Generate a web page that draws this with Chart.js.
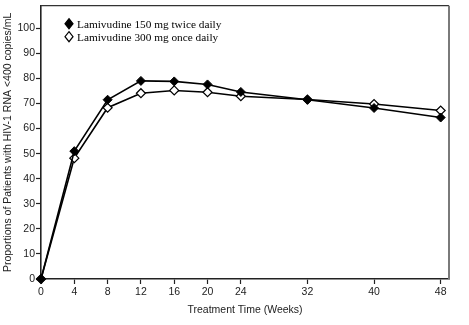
<!DOCTYPE html>
<html>
<head>
<meta charset="utf-8">
<script src="https://cdn.jsdelivr.net/npm/chart.js@4.4.1/dist/chart.umd.min.js"></script>
<style>
  html, body { margin: 0; padding: 0; background: #fff; }
  canvas { display: block; }
</style>
</head>
<body>
<canvas id="chart" width="469" height="325"></canvas>
<script>
// weeks on treatment and % of patients with HIV-1 RNA <400 copies/mL
const weeks = [0, 4, 8, 12, 16, 20, 24, 32, 40, 48];
const twiceDaily = [0, 51, 71.5, 79, 78.8, 77.6, 74.6, 71.5, 68.2, 64.4];
const onceDaily = [0, 48.2, 68.3, 74.1, 75.2, 74.5, 72.9, 71.6, 69.8, 67.2];
const seriesNames = ['Lamivudine 150 mg twice daily', 'Lamivudine 300 mg once daily'];
const xTicks = [0, 4, 8, 12, 16, 20, 24, 32, 40, 48];
const yTicks = [0, 10, 20, 30, 40, 50, 60, 70, 80, 90, 100];

const axisFont = { family: '"Liberation Sans", Arial, sans-serif', size: 10.5 };

const toPoints = (vals) => vals.map((v, i) => ({ x: weeks[i], y: v }));

// frame on the top and right of the plot
const framePlugin = {
  id: 'frame',
  beforeDatasetsDraw(chart) {
    const { ctx, chartArea: a } = chart;
    ctx.save();
    ctx.lineWidth = 1.2;
    ctx.strokeStyle = '#333';
    ctx.beginPath();
    ctx.moveTo(a.left, a.top);
    ctx.lineTo(a.right, a.top);
    ctx.stroke();
    ctx.lineWidth = 2;
    ctx.strokeStyle = '#7a7a7a';
    ctx.beginPath();
    ctx.moveTo(a.right, a.top);
    ctx.lineTo(a.right, a.bottom);
    ctx.stroke();
    ctx.restore();
  }
};

// legend sitting inside the plot, top left
const innerLegend = {
  id: 'innerLegend',
  afterDraw(chart) {
    const { ctx, chartArea: a } = chart;
    ctx.save();
    chart.data.datasets.forEach((ds, i) => {
      const mx = a.left + 28;
      const my = a.top + 18 + i * 13;
      ctx.beginPath();
      ctx.moveTo(mx, my - 5);
      ctx.lineTo(mx + 4, my);
      ctx.lineTo(mx, my + 5);
      ctx.lineTo(mx - 4, my);
      ctx.closePath();
      ctx.fillStyle = ds.pointBackgroundColor;
      ctx.fill();
      ctx.lineWidth = 1.2;
      ctx.strokeStyle = '#000';
      ctx.stroke();
      ctx.fillStyle = '#000';
      ctx.font = '11.3px "Liberation Serif", "Times New Roman", serif';
      ctx.textBaseline = 'middle';
      ctx.fillText(ds.label, mx + 8, my + 1);
    });
    ctx.restore();
  }
};

new Chart(document.getElementById('chart'), {
  type: 'line',
  data: {
    datasets: [
      {
        label: seriesNames[0],
        data: toPoints(twiceDaily),
        borderColor: '#000',
        borderWidth: 1.6,
        pointStyle: 'rectRot',
        pointRadius: 4.5,
        pointBackgroundColor: '#000',
        pointBorderColor: '#000',
        pointBorderWidth: 1,
        clip: false
      },
      {
        label: seriesNames[1],
        data: toPoints(onceDaily),
        borderColor: '#000',
        borderWidth: 1.6,
        pointStyle: 'rectRot',
        pointRadius: 4.5,
        pointBackgroundColor: '#fff',
        pointBorderColor: '#000',
        pointBorderWidth: 1.2,
        clip: false
      }
    ]
  },
  options: {
    responsive: false,
    animation: false,
    devicePixelRatio: 1,
    layout: { padding: { top: 3, right: 20, bottom: 9, left: 0 } },
    plugins: {
      legend: { display: false },
      tooltip: { enabled: false }
    },
    scales: {
      x: {
        type: 'linear',
        min: 0,
        max: 49,
        afterFit: (s) => { s.height = 37; s.paddingLeft = 0; s.paddingRight = 0; },
        afterBuildTicks: (s) => { s.ticks = xTicks.map(v => ({ value: v })); },
        grid: { drawOnChartArea: false, drawTicks: true, tickLength: 5, tickColor: '#222', tickWidth: 1.2 },
        border: { display: true, color: '#222', width: 1.6 },
        ticks: { color: '#222', font: axisFont, padding: 2, maxRotation: 0, autoSkip: false },
        title: {
          display: true,
          text: 'Treatment Time (Weeks)',
          color: '#222',
          font: axisFont,
          padding: 0
        }
      },
      y: {
        min: 0,
        max: 109,
        afterFit: (s) => { s.width = 41; s.paddingTop = 0; s.paddingBottom = 0; },
        afterBuildTicks: (s) => { s.ticks = yTicks.map(v => ({ value: v })); },
        grid: { drawOnChartArea: false, drawTicks: true, tickLength: 5, tickColor: '#222', tickWidth: 1.2 },
        border: { display: true, color: '#222', width: 1.6 },
        ticks: { color: '#222', font: axisFont, padding: 1, autoSkip: false },
        title: {
          display: true,
          text: 'Proportions of Patients with HIV-1 RNA <400 copies/mL',
          color: '#222',
          font: axisFont,
          padding: { top: 2, bottom: 0 }
        }
      }
    }
  },
  plugins: [framePlugin, innerLegend]
});
</script>
</body>
</html>
